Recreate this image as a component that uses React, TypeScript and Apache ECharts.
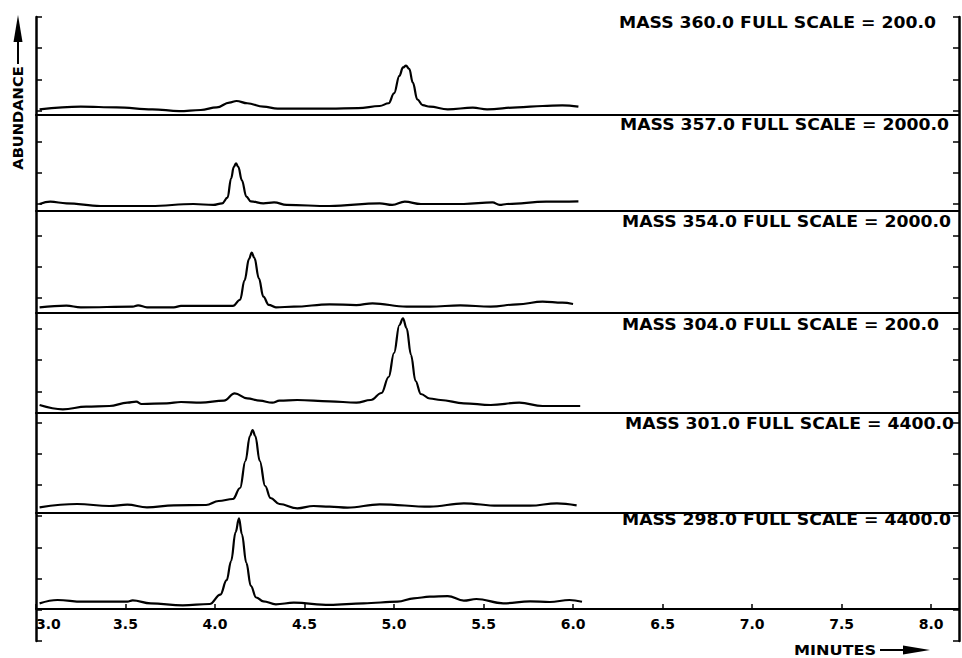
import React, { useEffect, useRef } from "react";
import * as echarts from "echarts";

// ---- data ----
const masses = [360.0, 357.0, 354.0, 304.0, 301.0, 298.0];
const fullScales = [200.0, 2000.0, 2000.0, 200.0, 4400.0, 4400.0];
const xTickValues = [3.0, 3.5, 4.0, 4.5, 5.0, 5.5, 6.0, 6.5, 7.0, 7.5, 8.0];

// [minutes, % of full scale]
const mass360 = [
  [3.02, 5.8], [3.25, 8.5], [3.45, 7.8], [3.65, 5.8], [3.8, 4.0], [3.92, 5.1], [4.01, 7.8], [4.08, 12.6],
  [4.12, 14.3], [4.18, 12.0], [4.27, 8.5], [4.35, 6.5], [4.64, 6.5], [4.8, 7.0], [4.92, 9.2], [4.97, 12],
  [5.0, 22], [5.03, 40], [5.05, 48.5], [5.067, 50.3], [5.085, 47], [5.105, 33], [5.13, 16], [5.16, 10],
  [5.2, 8.5], [5.3, 5.8], [5.44, 7.5], [5.52, 5.8], [5.69, 7.8], [5.83, 9.2], [5.94, 9.9], [6.03, 8.5],
];
const mass357 = [
  [3.02, 7.3], [3.08, 9.7], [3.17, 8.0], [3.36, 5.2], [3.64, 5.2], [3.88, 7.3], [3.99, 6.3], [4.04, 8],
  [4.07, 14], [4.09, 34], [4.105, 46], [4.117, 49.7], [4.13, 46], [4.15, 32], [4.175, 15], [4.2, 10],
  [4.27, 8.0], [4.33, 9.0], [4.4, 6.3], [4.64, 5.2], [4.92, 8.0], [4.99, 6.3], [5.06, 9.7], [5.15, 7.3],
  [5.39, 7.3], [5.55, 9.0], [5.59, 6.3], [5.63, 7.3], [5.85, 9.7], [6.03, 10.0],
];
const mass354 = [
  [3.02, 5.6], [3.17, 7.2], [3.25, 5.6], [3.54, 6.2], [3.57, 7.5], [3.62, 5.6], [3.77, 5.6], [3.81, 6.9],
  [4.1, 6.9], [4.14, 13], [4.165, 32], [4.19, 53], [4.205, 59.1], [4.22, 54], [4.245, 34], [4.27, 16],
  [4.3, 8], [4.34, 5.6], [4.44, 6.2], [4.64, 8.5], [4.79, 7.8], [4.88, 9.5], [5.07, 6.2], [5.2, 6.2],
  [5.37, 7.5], [5.54, 6.2], [5.69, 8.5], [5.83, 11.1], [5.94, 10.1], [6.0, 8.8],
];
const mass304 = [
  [3.02, 8], [3.15, 3.7], [3.28, 6.3], [3.41, 7], [3.51, 10.3], [3.56, 11.3], [3.59, 9], [3.73, 9.7],
  [3.81, 11], [3.92, 10.3], [4.05, 12.3], [4.11, 19.7], [4.18, 14.7], [4.25, 12.3], [4.32, 10.3],
  [4.36, 12.3], [4.46, 13], [4.64, 11.7], [4.79, 10.3], [4.87, 13], [4.93, 20], [4.97, 36], [5.0, 60],
  [5.03, 88], [5.05, 94.7], [5.07, 85], [5.095, 58], [5.12, 32], [5.15, 19], [5.2, 14.5], [5.26, 13],
  [5.39, 9.7], [5.54, 8], [5.7, 10.3], [5.83, 7], [6.04, 7],
];
const mass301 = [
  [3.02, 5.7], [3.23, 9], [3.41, 7], [3.51, 8.3], [3.62, 5.7], [3.77, 7.7], [3.95, 8], [4.02, 12],
  [4.1, 14], [4.14, 25], [4.17, 52], [4.195, 77], [4.21, 83], [4.225, 77], [4.25, 52], [4.28, 27],
  [4.31, 15], [4.36, 9], [4.46, 4.7], [4.55, 7], [4.64, 6.3], [4.74, 5.3], [4.92, 8.7], [5.2, 6.3],
  [5.39, 9.7], [5.58, 7.3], [5.76, 7.3], [5.91, 9.7], [6.02, 7.7],
];
const mass298 = [
  [3.02, 5.9], [3.12, 9.4], [3.26, 7.6], [3.51, 7.6], [3.54, 9], [3.64, 5.9], [3.82, 3.8], [3.97, 5.2],
  [4.03, 15], [4.065, 30], [4.09, 50], [4.115, 80], [4.134, 94.4], [4.15, 78], [4.175, 48], [4.2, 24],
  [4.23, 12], [4.27, 8], [4.34, 4.9], [4.44, 6.6], [4.64, 4.2], [4.83, 5.9], [5.02, 7.6], [5.11, 11.1],
  [5.2, 12.8], [5.3, 13.5], [5.39, 8.7], [5.46, 10.4], [5.61, 5.9], [5.76, 8], [5.87, 7.3], [5.98, 9.4],
  [6.05, 7.6],
];

const traces = [mass360, mass357, mass354, mass304, mass301, mass298];

// ---- layout ----
const LEFT = 36;
const WIDTH = 923;
const panelTops = [17, 115, 211, 313, 413, 513];
const panelHeights = [98, 96, 102, 100, 100, 96];
const labelPos = [
  [619, 23], [620, 125], [622, 222], [622, 325], [625, 424], [622, 520],
];
const X_MIN = 3.0;
const X_MAX = 8.156;
const FONT = '"DejaVu Sans", sans-serif';

function txt(x: number, y: number, text: string, size: number, align: string, scaleX = 1, rotation = 0) {
  return {
    type: "text",
    x,
    y,
    scaleX,
    rotation,
    silent: true,
    style: {
      text,
      fill: "#000",
      font: `bold ${size}px ${FONT}`,
      align,
      verticalAlign: "middle",
      textAlign: align,
      textVerticalAlign: "middle",
    },
  };
}

export default function App() {
  const ref = useRef<HTMLDivElement>(null);

  useEffect(() => {
    document.body.style.margin = "0";
    const chart = echarts.init(ref.current!, null, { renderer: "svg" });

    const grids: any[] = [];
    const xAxes: any[] = [];
    const yAxes: any[] = [];
    const series: any[] = [];

    traces.forEach((d, i) => {
      const last = i === traces.length - 1;
      grids.push({
        left: LEFT,
        width: WIDTH,
        top: panelTops[i],
        height: panelHeights[i],
        containLabel: false,
        outerBoundsMode: "none",
      });
      xAxes.push({
        type: "value",
        gridIndex: i,
        min: X_MIN,
        max: X_MAX,
        interval: 0.5,
        axisLine: { show: true, lineStyle: { color: "#000", width: 2 } },
        axisTick: {
          show: last,
          inside: true,
          length: 5,
          customValues: xTickValues,
          lineStyle: { color: "#000", width: 1.5 },
        },
        axisLabel: {
          show: last,
          customValues: xTickValues,
          alignMinLabel: "left",
          margin: 8,
          color: "#000",
          fontFamily: FONT,
          fontWeight: "bold",
          fontSize: 14,
          formatter: (v: number) => v.toFixed(1),
        },
        splitLine: { show: false },
      });
      yAxes.push({ type: "value", gridIndex: i, min: 0, max: 100, show: false });
      series.push({
        type: "line",
        xAxisIndex: i,
        yAxisIndex: i,
        data: d,
        showSymbol: false,
        smooth: 0.4,
        smoothMonotone: "x",
        silent: true,
        lineStyle: { color: "#000", width: 2.2 },
      });
    });

    // frame grid: tall left and right tick rulers
    const ruler = (position: string) => ({
      type: "value",
      gridIndex: traces.length,
      position,
      min: 0,
      max: 20,
      interval: 1,
      axisLine: { show: true, onZero: false, lineStyle: { color: "#000", width: 2.5 } },
      axisTick: { show: true, inside: true, length: 6, lineStyle: { color: "#000", width: 1.5 } },
      axisLabel: { show: false },
      splitLine: { show: false },
    });
    grids.push({
      left: LEFT,
      width: WIDTH,
      top: 17,
      height: 624,
      containLabel: false,
      outerBoundsMode: "none",
    });
    xAxes.push({ type: "value", gridIndex: traces.length, min: 0, max: 1, show: false });
    yAxes.push(ruler("left"));
    yAxes.push(ruler("right"));

    const graphics: any[] = [];
    masses.forEach((m, i) => {
      const label = `MASS ${m.toFixed(1)} FULL SCALE = ${fullScales[i].toFixed(1)}`;
      graphics.push(txt(labelPos[i][0], labelPos[i][1], label, 15, "left", 1.15));
    });
    // y title with arrow
    graphics.push(txt(18, 118, "ABUNDANCE", 14, "center", 1.05, Math.PI / 2));
    graphics.push({
      type: "line",
      silent: true,
      shape: { x1: 18, y1: 64, x2: 18, y2: 40 },
      style: { stroke: "#000", lineWidth: 2 },
    });
    graphics.push({
      type: "polygon",
      silent: true,
      shape: { points: [[18, 15], [13.5, 42], [22.5, 42]] },
      style: { fill: "#000" },
    });
    // x title with arrow
    graphics.push(txt(794, 650, "MINUTES", 14, "left", 1.15));
    graphics.push({
      type: "line",
      silent: true,
      shape: { x1: 880, y1: 650, x2: 906, y2: 650 },
      style: { stroke: "#000", lineWidth: 2 },
    });
    graphics.push({
      type: "polygon",
      silent: true,
      shape: { points: [[930, 650], [903, 645.5], [903, 654.5]] },
      style: { fill: "#000" },
    });

    chart.setOption({
      animation: false,
      backgroundColor: "#fff",
      grid: grids,
      xAxis: xAxes,
      yAxis: yAxes,
      series,
      graphic: graphics,
    });

    return () => chart.dispose();
  }, []);

  return (
    <div
      ref={ref}
      style={{ position: "absolute", left: 0, top: 0, width: 962, height: 658, background: "#fff" }}
    />
  );
}
